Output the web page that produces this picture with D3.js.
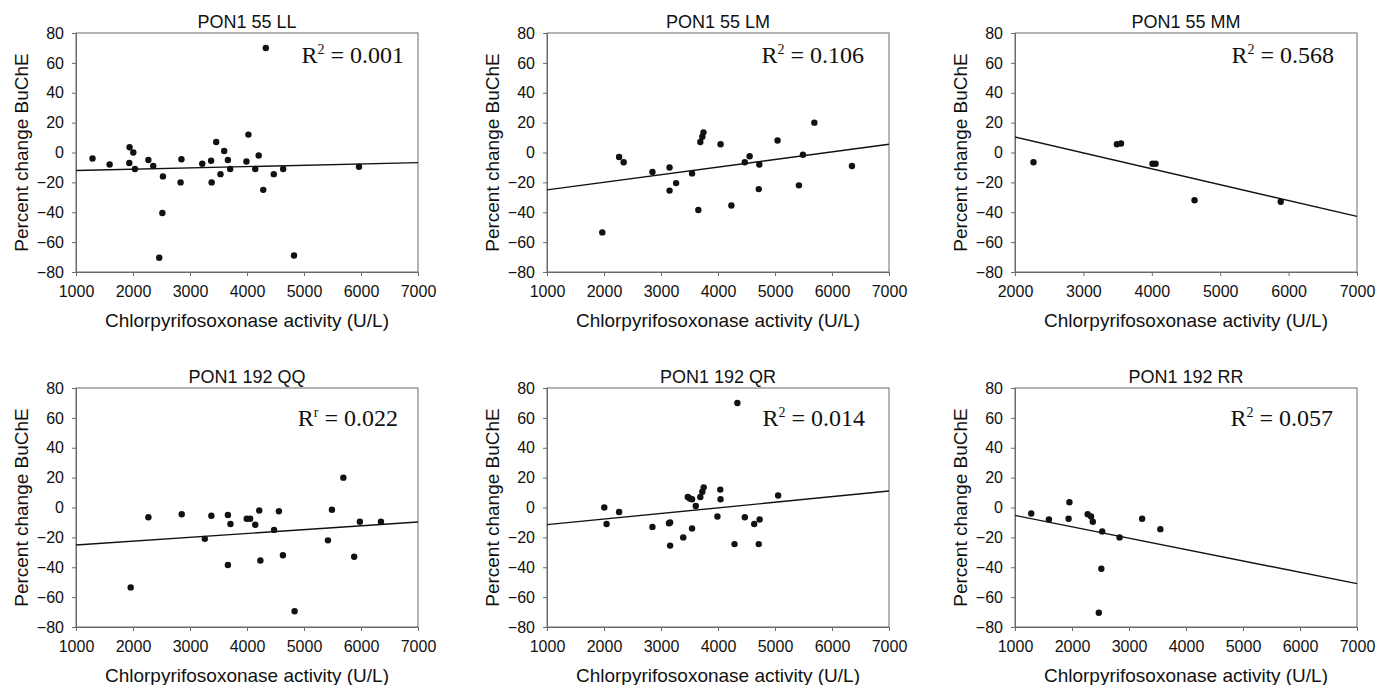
<!DOCTYPE html>
<html>
<head>
<meta charset="utf-8">
<script src="https://cdnjs.cloudflare.com/ajax/libs/d3/7.8.5/d3.min.js"></script>
<style>
  body { margin: 0; background: #fff; }
  svg { display: block; }
  .tick text { font-family: "Liberation Sans", Arial, sans-serif; font-size: 16px; fill: #111; }
</style>
</head>
<body>
<svg></svg>
<script>
// canvas
var width = 1378;
var height = 685;

// panel data
var titles = ["PON1 55 LL", "PON1 55 LM", "PON1 55 MM", "PON1 192 QQ", "PON1 192 QR", "PON1 192 RR"];
var r2Sup = ["2", "2", "2", "r", "2", "2"];
var r2Values = ["0.001", "0.106", "0.568", "0.022", "0.014", "0.057"];
var xDomains = [[1000, 7000], [1000, 7000], [2000, 7000], [1000, 7000], [1000, 7000], [1000, 7000]];
var yTicks = [-80, -60, -40, -20, 0, 20, 40, 60, 80];

// regression line value at the left and right end of the x axis
var fitLo = [-12.1, -25, 10.4, -25.1, -11.5, -5.3];
var fitHi = [-6.8, 5.5, -42.8, -9.7, 11, -51];

var llX = [1290, 1590, 1940, 1935, 2005, 2035, 2270, 2355, 2525, 2515, 2460, 2850, 2835, 3215, 3370, 3380, 3460, 3535, 3600, 3665, 3705, 3990, 4025, 4145, 4205, 4330, 4285, 4470, 4635, 4825, 5965];
var llY = [-4, -8, 3.5, -7, 0, -11, -5, -9, -16, -40.5, -70.5, -4.5, -20, -7.5, -5.5, -20, 7, -14.5, 1, -5, -11, -6, 12, -11, -2, 70, -25, -14.5, -11, -69, -9.5];

var lmX = [1970, 2265, 2345, 2850, 3150, 3150, 3265, 3545, 3655, 3690, 3725, 3745, 4045, 4235, 4470, 4555, 4725, 4715, 5045, 5420, 5490, 5690, 6350];
var lmY = [-53.5, -3, -6.5, -13, -10, -25.5, -20.5, -14, -38.5, 7, 10.5, 13.5, 5.5, -35.5, -6.5, -2.5, -8, -24.5, 8, -22, -1.5, 20, -9];

var mmX = [2270, 3490, 3550, 4010, 4055, 4625, 5885];
var mmY = [-6.5, 5.5, 6, -7.5, -7.5, -32, -33];

var qqX = [1960, 2270, 2855, 3260, 3375, 3665, 3665, 3710, 3995, 4055, 4145, 4215, 4235, 4475, 4560, 4630, 4835, 5420, 5490, 5690, 5880, 5980, 6350];
var qqY = [-53.5, -6.5, -4.5, -21, -5.5, -5, -38.5, -11, -7.5, -7.5, -11.5, -2, -35.5, -15, -2.5, -32, -69.5, -22, -1.5, 20, -33, -9.5, -9.5];

var qrX = [2005, 2045, 2265, 2850, 3140, 3160, 3160, 3390, 3470, 3505, 3545, 3545, 3610, 3690, 3725, 3750, 3990, 4040, 4045, 4340, 4290, 4470, 4635, 4730, 4715, 5055];
var qrY = [0, -11, -3, -13, -10.5, -10, -25.5, -20, 7, 6, 5.5, -14, 1, 7, 10.5, 13.5, -6, 12, 5.5, 70, -24.5, -6.5, -11, -8, -24.5, 8];

var rrX = [1285, 1595, 1955, 1940, 2275, 2335, 2365, 2530, 2515, 2470, 2835, 3230, 3550];
var rrY = [-4, -8, 3.5, -7.5, -4.5, -6, -9.5, -16, -41, -70.5, -20, -7.5, -14.5];

var seriesX = [llX, lmX, mmX, qqX, qrX, rrX];
var seriesY = [llY, lmY, mmY, qqY, qrY, rrY];

// layout
var colLeft = [76, 547, 1015];
var rowTop = [33, 388];
var pw = 342, ph = 239;
var labelOffset = [[14, 30], [25, 30], [23, 30], [20, 38], [24, 38], [24, 38]]; // [from right, baseline from top]

var svg = d3.select("svg")
    .attr("width", width)
    .attr("height", height);

var sans = '"Liberation Sans", Arial, sans-serif';
var serif = '"Liberation Serif", "Times New Roman", serif';

titles.forEach(function(title, i) {
    var left = colLeft[i % 3];
    var top = rowTop[Math.floor(i / 3)];

    var x = d3.scaleLinear().domain(xDomains[i]).range([0, pw]);
    var y = d3.scaleLinear().domain([-80, 80]).range([ph, 0]);

    var g = svg.append("g").attr("transform", "translate(" + left + "," + top + ")");

    // frame
    g.append("rect")
        .attr("width", pw)
        .attr("height", ph)
        .attr("fill", "none")
        .attr("stroke", "#6a6a6a")
        .attr("stroke-width", 1);

    var xAxis = d3.axisBottom(x)
        .tickValues(d3.range(xDomains[i][0], xDomains[i][1] + 1, 1000))
        .tickFormat(d3.format("d"))
        .tickSizeInner(4).tickSizeOuter(0).tickPadding(10);
    var yAxis = d3.axisLeft(y)
        .tickValues(yTicks)
        .tickFormat(d3.format("d"))
        .tickSizeInner(4).tickSizeOuter(0).tickPadding(8);

    var gx = g.append("g").attr("transform", "translate(0," + ph + ")").call(xAxis);
    var gy = g.append("g").call(yAxis);
    [gx, gy].forEach(function(a) {
        a.select(".domain").attr("stroke", "#6a6a6a");
        a.selectAll(".tick line").attr("stroke", "#6a6a6a");
        a.selectAll(".tick text").attr("fill", "#111");
    });

    // regression line
    g.append("line")
        .attr("x1", x(xDomains[i][0]))
        .attr("y1", y(fitLo[i]))
        .attr("x2", x(xDomains[i][1]))
        .attr("y2", y(fitHi[i]))
        .attr("stroke", "#111")
        .attr("stroke-width", 1.4);

    // points
    g.selectAll("circle")
        .data(seriesX[i].map(function(d, k) { return [d, seriesY[i][k]]; }))
        .enter().append("circle")
        .attr("cx", function(d) { return x(d[0]); })
        .attr("cy", function(d) { return y(d[1]); })
        .attr("r", 3.2)
        .attr("fill", "#111");

    // title
    g.append("text")
        .attr("x", pw / 2)
        .attr("y", -5)
        .attr("text-anchor", "middle")
        .style("font-family", sans)
        .style("font-size", "18px")
        .attr("fill", "#111")
        .text(title);

    // axis labels
    g.append("text")
        .attr("x", pw / 2)
        .attr("y", ph + 55)
        .attr("text-anchor", "middle")
        .style("font-family", sans)
        .style("font-size", "19px")
        .attr("fill", "#111")
        .text("Chlorpyrifosoxonase activity (U/L)");

    g.append("text")
        .attr("transform", "translate(-48," + (ph / 2) + ") rotate(-90)")
        .attr("text-anchor", "middle")
        .style("font-family", sans)
        .style("font-size", "19px")
        .attr("fill", "#111")
        .text("Percent change BuChE");

    // R squared
    var t = g.append("text")
        .attr("x", pw - labelOffset[i][0])
        .attr("y", labelOffset[i][1])
        .attr("text-anchor", "end")
        .style("font-family", serif)
        .style("font-size", "24px")
        .attr("fill", "#111");
    t.append("tspan").text("R");
    t.append("tspan").attr("dy", -9).style("font-size", "14px").text(r2Sup[i]);
    t.append("tspan").attr("dy", 9).text(" = " + r2Values[i]);
});
</script>
</body>
</html>
